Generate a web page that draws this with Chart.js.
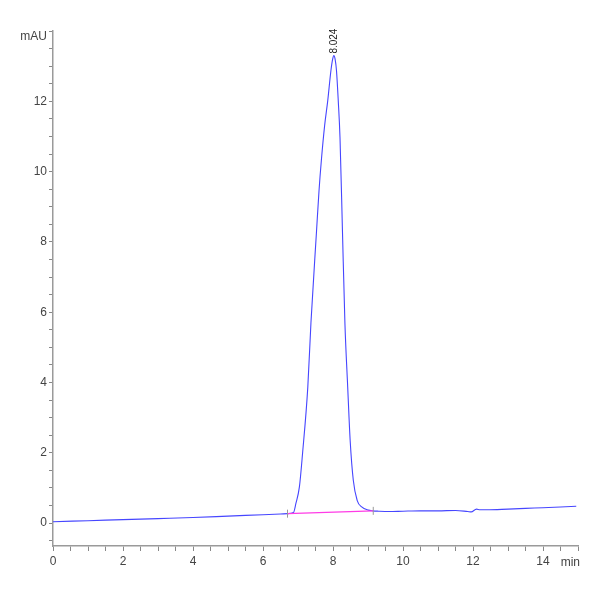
<!DOCTYPE html>
<html>
<head>
<meta charset="utf-8">
<script src="https://cdn.jsdelivr.net/npm/chart.js@4.4.1/dist/chart.umd.min.js"></script>
<style>
  html, body { margin: 0; padding: 0; background: #fff; }
  #wrap { width: 600px; height: 600px; }
</style>
</head>
<body>
<div id="wrap"><canvas id="c" width="600" height="600"></canvas></div>
<script>
// ---- data ----
const timeValues = [0, 1, 2, 3, 4, 5, 6, 6.5, 6.7, 6.87, 6.94, 7.04, 7.13, 7.28, 7.37, 7.53, 7.60, 7.67, 7.76, 7.85, 7.94, 7.99, 8.024, 8.06, 8.1, 8.15, 8.2, 8.27, 8.34, 8.42, 8.49, 8.58, 8.69, 8.82, 9.01, 9.14, 9.3, 9.6, 10, 10.5, 11, 11.5, 11.85, 11.95, 12.1, 12.2, 12.4, 13, 13.5, 14, 14.5, 14.95];
const signalValues = [0.04, 0.07, 0.10, 0.13, 0.16, 0.20, 0.24, 0.26, 0.27, 0.30, 0.56, 1.03, 1.98, 3.87, 5.70, 8.32, 9.45, 10.35, 11.3, 12.02, 12.87, 13.2, 13.3, 13.2, 12.87, 12.02, 10.97, 8.32, 5.70, 3.87, 2.36, 1.22, 0.65, 0.46, 0.37, 0.35, 0.34, 0.33, 0.34, 0.35, 0.35, 0.36, 0.33, 0.32, 0.40, 0.38, 0.38, 0.40, 0.42, 0.44, 0.46, 0.48];
const baselineTimes = [6.7, 9.15];
const baselineValues = [0.27, 0.35];
const peakLabel = "8.024";
const peakTime = 8.024;
const peakHeight = 13.3;
const yLabelValues = [0, 2, 4, 6, 8, 10, 12];
const xLabelValues = [0, 2, 4, 6, 8, 10, 12, 14];
const yUnit = "mAU";
const xUnit = "min";

const toPts = (xs, ys) => xs.map((x, i) => ({ x: x, y: ys[i] }));
const isLabel = (v, list) => list.some(l => Math.abs(l - v) < 1e-9);
const FONT = '"Liberation Sans Narrow", "Liberation Sans", Arial, sans-serif';

const textPlugin = {
  id: 'texts',
  afterDraw(chart) {
    const ctx = chart.ctx;
    const xs = chart.scales.x, ys = chart.scales.y;
    ctx.save();
    ctx.fillStyle = '#444';
    ctx.font = '12px ' + FONT;
    ctx.textAlign = 'right';
    ctx.textBaseline = 'middle';
    ctx.fillText(yUnit, ys.left + ys.width - 6, ys.getPixelForValue(14) + 6);
    ctx.textAlign = 'center';
    ctx.fillText(xUnit, xs.getPixelForValue(14.78), xs.top + 17);
    // peak integration markers
    ctx.strokeStyle = '#999';
    ctx.lineWidth = 1;
    baselineTimes.forEach((t, i) => {
      const px = xs.getPixelForValue(t);
      const py = ys.getPixelForValue(baselineValues[i]);
      ctx.beginPath();
      ctx.moveTo(px, py - 4);
      ctx.lineTo(px, py + 4);
      ctx.stroke();
    });
    // peak label, rotated
    ctx.translate(xs.getPixelForValue(peakTime), ys.getPixelForValue(peakHeight) - 2);
    ctx.rotate(-Math.PI / 2);
    ctx.font = '10px "Liberation Sans", Arial, sans-serif';
    ctx.fillStyle = '#222';
    ctx.textAlign = 'left';
    ctx.textBaseline = 'middle';
    ctx.fillText(peakLabel, 0, 0);
    ctx.restore();
  }
};

const bgPlugin = {
  id: 'bg',
  beforeDraw(chart) {
    const ctx = chart.ctx;
    ctx.save();
    ctx.fillStyle = '#fff';
    ctx.fillRect(0, 0, chart.width, chart.height);
    ctx.restore();
  }
};

new Chart(document.getElementById('c'), {
  type: 'line',
  data: {
    datasets: [
      {
        data: toPts(baselineTimes, baselineValues),
        borderColor: 'rgb(255,60,230)',
        borderWidth: 1.2,
        pointRadius: 0,
        fill: false
      },
      {
        data: toPts(timeValues, signalValues),
        borderColor: 'rgb(70,70,255)',
        borderWidth: 1.1,
        pointRadius: 0,
        cubicInterpolationMode: 'monotone',
        fill: false
      }
    ]
  },
  options: {
    responsive: false,
    animation: false,
    devicePixelRatio: 1,
    layout: { padding: { top: 31, right: 22, bottom: 0, left: 0 } },
    plugins: { legend: { display: false }, tooltip: { enabled: false } },
    scales: {
      x: {
        type: 'linear',
        min: 0,
        max: 15,
        afterFit(scale) { scale.height = 54; },
        border: { display: true, color: '#9a9a9a', width: 1.5 },
        grid: { drawOnChartArea: false, drawTicks: true, tickLength: 5, tickColor: '#888' },
        ticks: {
          stepSize: 0.5,
          autoSkip: false,
          maxRotation: 0,
          includeBounds: false,
          padding: 3,
          color: '#444',
          font: { family: FONT, size: 12 },
          callback: (v) => isLabel(v, xLabelValues) ? String(v) : ''
        }
      },
      y: {
        type: 'linear',
        min: -0.65,
        max: 14,
        afterFit(scale) { scale.width = 53; },
        border: { display: true, color: '#9a9a9a', width: 1.5 },
        grid: { drawOnChartArea: false, drawTicks: true, tickLength: 4, tickColor: '#888' },
        ticks: {
          stepSize: 0.5,
          autoSkip: false,
          includeBounds: false,
          padding: 2,
          color: '#444',
          font: { family: FONT, size: 12 },
          callback: (v) => isLabel(v, yLabelValues) ? String(v) : ''
        }
      }
    }
  },
  plugins: [bgPlugin, textPlugin]
});
</script>
</body>
</html>
